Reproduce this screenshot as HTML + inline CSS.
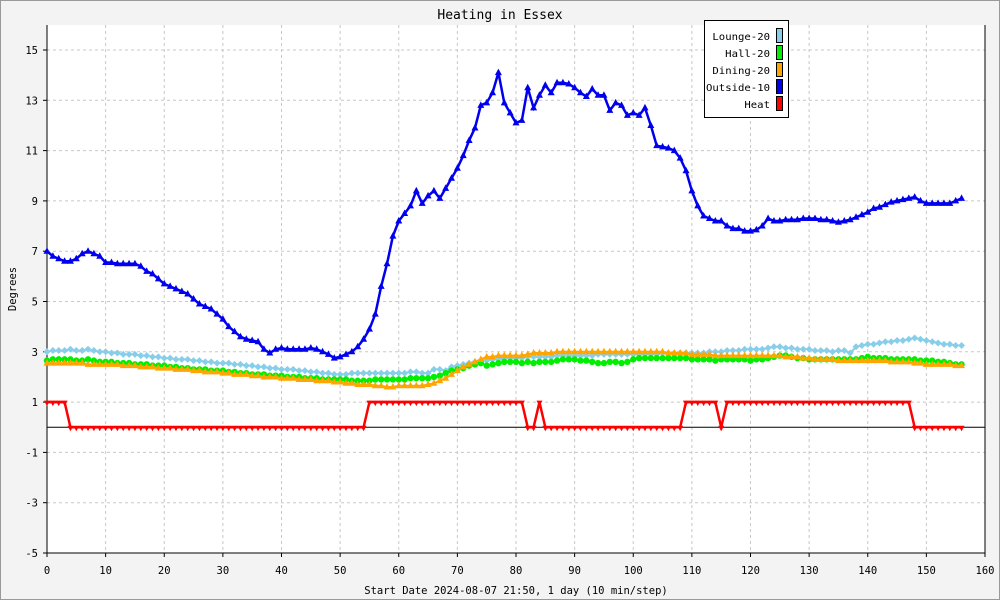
<!DOCTYPE html>
<html><head><meta charset="utf-8"><style>
html,body{margin:0;padding:0;background:#f3f3f3}
svg{display:block;font-family:"DejaVu Sans Mono","Liberation Mono",monospace}
</style></head><body>
<svg id="chart" width="1000" height="600" viewBox="0 0 1000 600" xmlns="http://www.w3.org/2000/svg">
<rect x="0.5" y="0.5" width="999" height="599" fill="#f3f3f3" stroke="#999"/>
<rect x="47" y="25" width="938" height="528" fill="#fff"/>
<text x="500" y="19" text-anchor="middle" font-size="13" fill="#000">Heating in Essex</text>
<text x="16" y="289" text-anchor="middle" font-size="10.5" transform="rotate(-90 16 289)">Degrees</text>
<text x="516" y="594" text-anchor="middle" font-size="10.5">Start Date 2024-08-07 21:50, 1 day (10 min/step)</text>
<g id="grid"></g><g id="axes"></g><g id="series"></g><g id="legend"></g>
</svg>
<script>
const xTicks=[0,10,20,30,40,50,60,70,80,90,100,110,120,130,140,150,160];
const yTicks=[15,13,11,9,7,5,3,1,-1,-3,-5];
const seriesNames=["Lounge-20","Hall-20","Dining-20","Outside-10","Heat"];
const lounge=[3.0,3.05,3.05,3.05,3.1,3.05,3.05,3.1,3.05,3.0,3.0,2.95,2.95,2.9,2.9,2.9,2.85,2.85,2.8,2.8,2.75,2.75,2.7,2.7,2.7,2.65,2.65,2.6,2.6,2.55,2.55,2.55,2.5,2.5,2.45,2.45,2.4,2.4,2.35,2.35,2.3,2.3,2.3,2.25,2.25,2.2,2.2,2.15,2.15,2.1,2.1,2.1,2.15,2.15,2.15,2.15,2.15,2.15,2.15,2.15,2.15,2.15,2.2,2.2,2.15,2.15,2.3,2.3,2.25,2.4,2.45,2.5,2.55,2.6,2.65,2.65,2.7,2.7,2.75,2.75,2.75,2.75,2.8,2.8,2.8,2.8,2.8,2.85,2.85,2.85,2.85,2.85,2.85,2.85,2.9,2.9,2.9,2.9,2.9,2.9,2.9,2.9,2.9,2.9,2.9,2.95,2.95,2.95,2.95,2.95,2.95,2.95,2.95,3.0,3.0,3.0,3.05,3.05,3.05,3.1,3.1,3.1,3.1,3.15,3.2,3.2,3.15,3.15,3.1,3.1,3.1,3.05,3.05,3.05,3.0,3.05,3.05,2.95,3.2,3.25,3.3,3.3,3.35,3.4,3.4,3.45,3.45,3.5,3.55,3.5,3.45,3.4,3.35,3.3,3.3,3.25,3.25];
const hall=[2.65,2.7,2.7,2.7,2.7,2.65,2.65,2.7,2.65,2.6,2.6,2.6,2.55,2.55,2.55,2.5,2.5,2.5,2.45,2.45,2.45,2.4,2.4,2.35,2.35,2.3,2.3,2.3,2.25,2.25,2.25,2.2,2.2,2.15,2.15,2.1,2.1,2.1,2.05,2.05,2.05,2.0,2.0,2.0,1.95,1.95,1.95,1.9,1.9,1.9,1.9,1.9,1.85,1.85,1.85,1.85,1.9,1.9,1.9,1.9,1.9,1.9,1.95,1.95,1.95,1.95,2.0,2.05,2.15,2.25,2.3,2.35,2.45,2.5,2.55,2.45,2.5,2.55,2.6,2.6,2.6,2.55,2.6,2.55,2.6,2.6,2.6,2.65,2.7,2.7,2.7,2.65,2.65,2.6,2.55,2.55,2.6,2.6,2.55,2.6,2.7,2.75,2.75,2.75,2.75,2.75,2.75,2.75,2.75,2.75,2.7,2.7,2.7,2.7,2.65,2.7,2.7,2.7,2.7,2.7,2.65,2.7,2.7,2.75,2.8,2.85,2.85,2.8,2.75,2.75,2.7,2.7,2.7,2.7,2.7,2.7,2.7,2.7,2.7,2.75,2.8,2.75,2.75,2.75,2.7,2.7,2.7,2.7,2.7,2.65,2.65,2.65,2.6,2.6,2.55,2.5,2.5];
const dining=[2.55,2.55,2.55,2.55,2.55,2.55,2.55,2.5,2.5,2.5,2.5,2.5,2.5,2.45,2.45,2.45,2.4,2.4,2.4,2.35,2.35,2.35,2.3,2.3,2.3,2.25,2.25,2.2,2.2,2.2,2.15,2.15,2.1,2.1,2.1,2.05,2.05,2.0,2.0,2.0,1.95,1.95,1.95,1.9,1.9,1.9,1.85,1.85,1.85,1.8,1.8,1.75,1.75,1.7,1.7,1.7,1.65,1.65,1.6,1.6,1.65,1.65,1.65,1.65,1.65,1.7,1.75,1.85,1.95,2.1,2.25,2.4,2.5,2.6,2.7,2.8,2.8,2.85,2.85,2.85,2.85,2.85,2.9,2.95,2.95,2.95,2.95,3.0,3.0,3.0,3.0,3.0,3.0,3.0,3.0,3.0,3.0,3.0,3.0,3.0,3.0,3.0,3.0,3.0,3.0,3.0,2.95,2.95,2.95,2.95,2.9,2.9,2.9,2.9,2.85,2.85,2.85,2.85,2.85,2.85,2.85,2.85,2.85,2.85,2.85,2.85,2.8,2.8,2.8,2.75,2.75,2.7,2.7,2.7,2.7,2.65,2.65,2.65,2.65,2.65,2.65,2.65,2.65,2.65,2.6,2.6,2.6,2.6,2.55,2.55,2.5,2.5,2.5,2.5,2.5,2.45,2.45];
const outside=[7.0,6.8,6.7,6.6,6.6,6.7,6.9,7.0,6.9,6.8,6.55,6.55,6.5,6.5,6.5,6.5,6.4,6.2,6.1,5.9,5.7,5.6,5.5,5.4,5.3,5.1,4.9,4.8,4.7,4.5,4.3,4.0,3.8,3.6,3.5,3.45,3.4,3.1,2.95,3.1,3.15,3.1,3.1,3.1,3.1,3.15,3.1,3.0,2.9,2.75,2.8,2.9,3.0,3.2,3.5,3.9,4.5,5.6,6.5,7.6,8.2,8.5,8.8,9.4,8.9,9.2,9.4,9.1,9.5,9.9,10.3,10.8,11.4,11.9,12.8,12.9,13.3,14.1,12.9,12.5,12.1,12.2,13.5,12.7,13.2,13.6,13.3,13.7,13.7,13.65,13.5,13.3,13.15,13.45,13.2,13.2,12.6,12.9,12.8,12.4,12.5,12.4,12.7,12.0,11.2,11.15,11.1,11.0,10.7,10.2,9.4,8.8,8.4,8.3,8.2,8.2,8.0,7.9,7.9,7.8,7.8,7.85,8.0,8.3,8.2,8.2,8.25,8.25,8.25,8.3,8.3,8.3,8.25,8.25,8.2,8.15,8.2,8.25,8.35,8.45,8.55,8.7,8.75,8.85,8.95,9.0,9.05,9.1,9.15,9.0,8.9,8.9,8.9,8.9,8.9,9.0,9.1];
const heat=[1,1,1,1,0,0,0,0,0,0,0,0,0,0,0,0,0,0,0,0,0,0,0,0,0,0,0,0,0,0,0,0,0,0,0,0,0,0,0,0,0,0,0,0,0,0,0,0,0,0,0,0,0,0,0,1,1,1,1,1,1,1,1,1,1,1,1,1,1,1,1,1,1,1,1,1,1,1,1,1,1,1,0,0,1,0,0,0,0,0,0,0,0,0,0,0,0,0,0,0,0,0,0,0,0,0,0,0,0,1,1,1,1,1,1,0,1,1,1,1,1,1,1,1,1,1,1,1,1,1,1,1,1,1,1,1,1,1,1,1,1,1,1,1,1,1,1,1,0,0,0,0,0,0,0,0,0];

const NS="http://www.w3.org/2000/svg";
const X0=47,X1=985,Y0=553,Y1=50;
const xs=v=>X0+(v-0)/160*(X1-X0);
const ys=v=>Y0-(v+5)/20*(Y0-Y1);
function mk(tag,attrs,parent){const e=document.createElementNS(NS,tag);for(const k in attrs)e.setAttribute(k,attrs[k]);parent.appendChild(e);return e;}
const grid=document.getElementById('grid'),axes=document.getElementById('axes'),ser=document.getElementById('series'),leg=document.getElementById('legend');

xTicks.forEach(t=>{
  const x=xs(t);
  if(t>0&&t<160){const g=mk('line',{x1:x,x2:x,y1:25,y2:553,stroke:'#c8c8c8','stroke-dasharray':'3,3'},grid);
  
  }
  const tk=mk('line',{x1:x,x2:x,y1:553,y2:557,stroke:'#000'},axes);
  
  
  const l=mk('text',{x:x,y:574,'text-anchor':'middle','font-size':'10.5'},axes);l.textContent=t;
  
  
});
yTicks.forEach(t=>{
  const y=ys(t);
  if(t>-5){const g=mk('line',{x1:47,x2:985,y1:y,y2:y,stroke:'#c8c8c8','stroke-dasharray':'3,3'},grid);
  
  }
  const tk=mk('line',{x1:43,x2:47,y1:y,y2:y,stroke:'#000'},axes);
  
  
  const l=mk('text',{x:38,y:y+4,'text-anchor':'end','font-size':'10.5'},axes);l.textContent=t;
  
  
});
let a=mk('line',{x1:47,x2:47,y1:25,y2:553,stroke:'#000'},axes);


a=mk('line',{x1:47,x2:985,y1:553,y2:553,stroke:'#000'},axes);


a=mk('line',{x1:47,x2:985,y1:ys(0),y2:ys(0),stroke:'#000'},axes);


a=mk('line',{x1:985,x2:985,y1:25,y2:553,stroke:'#000'},axes);



const colors=["#87ceeb","#00ee00","#ffa500","#0000ee","#ff0000"];
const allData=[lounge,hall,dining,outside,heat];
const markers=["diamond","circle","tri","tri","tridown"];
function marker(type,x,y,c,g){
  let e;
  if(type==='circle')e=mk('circle',{cx:x,cy:y,r:3.2,fill:c},g);
  else if(type==='diamond')e=mk('polygon',{points:`${x},${y-3.5} ${x+3.5},${y} ${x},${y+3.5} ${x-3.5},${y}`,fill:c},g);
  else if(type==='tri')e=mk('polygon',{points:`${x},${y-4} ${x+3.5},${y+2.5} ${x-3.5},${y+2.5}`,fill:c},g);
  else e=mk('polygon',{points:`${x},${y+4} ${x+3},${y-1.5} ${x-3},${y-1.5}`,fill:c},g);
  return e;
}
const seriesKeys=['lounge','hall','dining','outside','heat'];
allData.forEach((d,si)=>{
  const g=mk('g',{},ser);
  
  
  const pts=d.map((v,i)=>xs(i)+','+ys(v)).join(' ');
  const pl=mk('polyline',{points:pts,fill:'none',stroke:colors[si],'stroke-width':si===3||si===4?2.5:2},g);
  
  
  d.forEach((v,i)=>{
    const m=marker(markers[si],xs(i),ys(v),colors[si],g);
    
    
  });
});

const box=mk('rect',{x:704.5,y:20.5,width:84,height:97,fill:'#fff',stroke:'#000'},leg);


seriesNames.forEach((n,i)=>{
  const y=36+i*17;
  const g=mk('g',{},leg);
  
  
  const t=mk('text',{x:770,y:y+4,'text-anchor':'end','font-size':'10','textLength':n.length*6.4,'lengthAdjust':'spacingAndGlyphs'},g);t.textContent=n;
  const r=mk('rect',{x:776.5,y:y-7.5,width:6,height:14,fill:colors[i],stroke:'#000'},g);
  
  
});
</script>
</body></html>
